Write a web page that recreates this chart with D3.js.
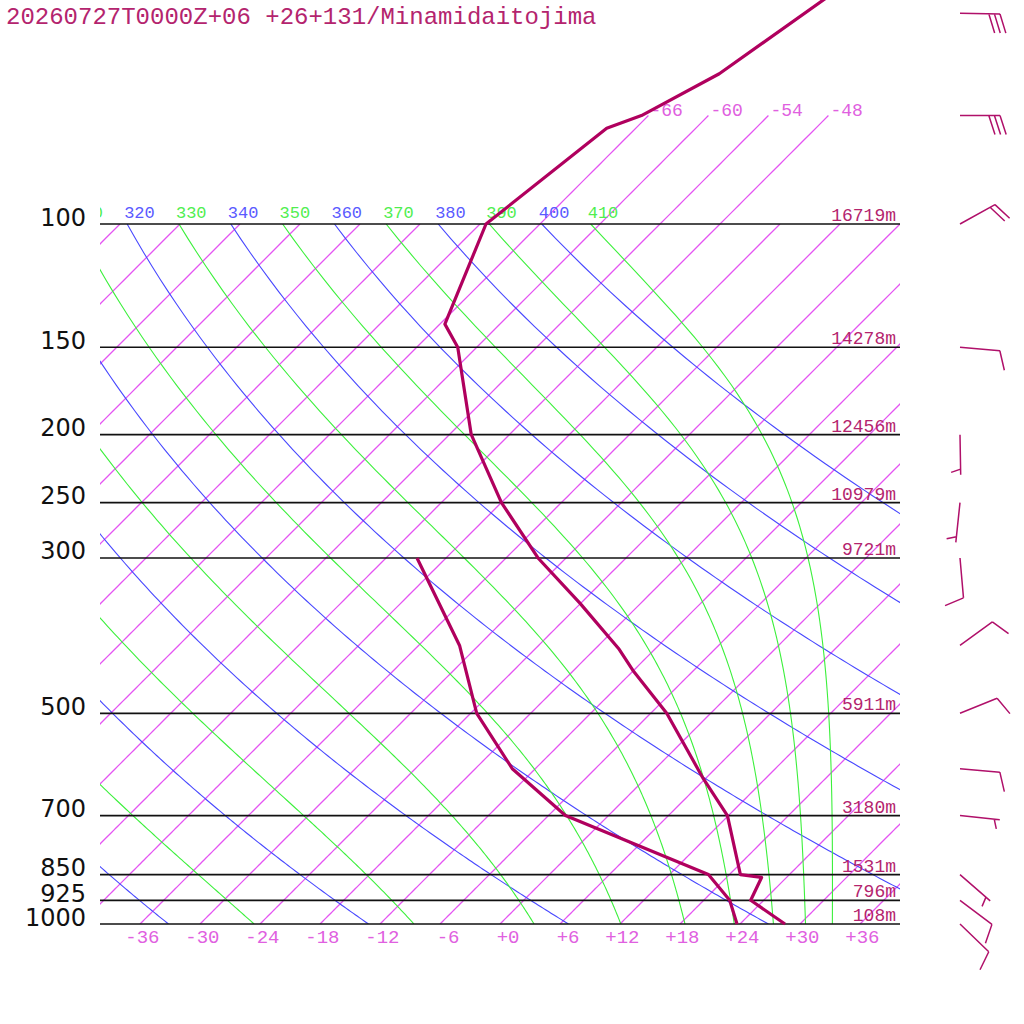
<!DOCTYPE html>
<html><head><meta charset="utf-8">
<script src="https://cdn.jsdelivr.net/npm/d3@7"></script>
<style>body{margin:0;background:#fff} svg{display:block}</style>
</head><body><svg id="c" width="1024" height="1024"></svg>
<script>
// ---------- data ----------
const title = "20260727T0000Z+06 +26+131/Minamidaitojima";
const pLevels = [1000, 925, 850, 700, 500, 300, 250, 200, 150, 100];
const heightLabels = ["108m", "796m", "1531m", "3180m", "5911m", "9721m", "10979m", "12456m", "14278m", "16719m"];
const tempTicks = [-36, -30, -24, -18, -12, -6, 0, 6, 12, 18, 24, 30, 36];
const isoTemps = d3.range(-120, 43, 6);
const upperIsoTemps = [-66, -60, -54, -48];
const dryThetas = [240, 260, 280, 300, 320, 340, 360, 380, 400];
const moistThetaEs = [250, 270, 290, 310, 330, 350, 370, 390, 410];

const tempP = [1000, 925, 858, 850, 700, 620, 500, 434, 404, 348, 300, 250, 200, 150, 139, 100, 73, 70, 61, 45];
const tempT = [28.5, 22.7, 21.5, 19.1, 11.9, 5.8, -4.4, -12.1, -15.7, -24.1, -32.8, -42.0, -51.8, -61.9, -65.5, -71.4, -68.9, -66.7, -63.1, -59.3];
const dewP = [1000, 925, 850, 700, 600, 500, 400, 300];
const dewT = [23.7, 20.6, 15.9, -4.3, -14.3, -23.4, -31.9, -44.9];

const windP = [50, 70, 100, 150, 200, 250, 300, 400, 500, 600, 700, 850, 925, 1000];
const windDir = [91, 90, 61, 95, 179, 186, 175, 54, 68, 95, 96, 131, 127, 134];
const windSpd = [30, 30, 20, 10, 5, 5, 10, 10, 10, 10, 5, 5, 10, 10];

// ---------- setup ----------
const W = 1024, H = 1024;
const L = 100, R = 900, T0 = 224, B = 924;
const svg = d3.select("#c");
const y = d3.scaleLog().domain([1000, 100]).range([B, T0]);
const xT = d3.scaleLinear().domain([-40, 40]).range([L, R]);
const sx = (t, p) => xT(t) + (B - y(p));
const mono = "'Liberation Mono', 'DejaVu Sans Mono', monospace";
const ISO = "#e455f2";

svg.append("rect").attr("width", W).attr("height", H).attr("fill", "#fff");
const defs = svg.append("defs");
defs.append("clipPath").attr("id", "plot").append("rect")
  .attr("x", L).attr("y", T0).attr("width", R - L).attr("height", B - T0);
defs.append("clipPath").attr("id", "labx").append("rect")
  .attr("x", L).attr("y", 0).attr("width", R - L).attr("height", H);

const plot = svg.append("g").attr("clip-path", "url(#plot)");
const pGrid = d3.range(1000, 99, -5);
const pUp = d3.range(100, 69, -2);
const line = d3.line().x(d => d[0]).y(d => d[1]);

// isotherms
plot.append("g").selectAll("path").data(isoTemps).join("path")
  .attr("d", t => line(pGrid.map(p => [sx(t, p), y(p)])))
  .attr("fill", "none").attr("stroke", ISO).attr("stroke-width", 1.3);

// dry adiabats
const K = 0.2854;
plot.append("g").selectAll("path").data(dryThetas).join("path")
  .attr("d", th => line(pGrid.map(p => [sx(th * Math.pow(p / 1000, K) - 273.15, p), y(p)])))
  .attr("fill", "none").attr("stroke", "#4848ff").attr("stroke-width", 1.1);

// moist (pseudo) adiabats, Bolton theta-e
function thetaE(tk, p) {
  const tc = tk - 273.15;
  const es = 6.112 * Math.exp(17.67 * tc / (tc + 243.5));
  const r = 622 * es / (p - es);
  return tk * Math.pow(1000 / p, 0.2854 * (1 - 0.00028 * r)) *
    Math.exp((3.376 / tk - 0.00254) * r * (1 + 0.00081 * r));
}
function solveT(te, p) {
  let lo = 120, hi = 330;
  for (let i = 0; i < 60; i++) {
    const mid = (lo + hi) / 2;
    if (thetaE(mid, p) < te) lo = mid; else hi = mid;
  }
  return (lo + hi) / 2 - 273.15;
}
plot.append("g").selectAll("path").data(moistThetaEs).join("path")
  .attr("d", te => line(pGrid.map(p => [sx(solveT(te, p), p), y(p)])))
  .attr("fill", "none").attr("stroke", "#3cf03c").attr("stroke-width", 1.1);

// upper isotherms (100 -> 70 hPa) with labels
const up = svg.append("g");
up.selectAll("path").data(upperIsoTemps).join("path")
  .attr("d", t => line(pUp.map(p => [sx(t, p), y(p)])))
  .attr("fill", "none").attr("stroke", ISO).attr("stroke-width", 1.3);
up.selectAll("text").data(upperIsoTemps).join("text")
  .attr("x", d => sx(d, 70) + 2).attr("y", y(70) + 0.5)
  .attr("font-family", mono).attr("font-size", 18).attr("fill", "#e060e0")
  .text(d => "-" + Math.abs(d));

// isobars
svg.append("g").selectAll("path").data(pLevels).join("path")
  .attr("d", p => line([[L, y(p)], [R, y(p)]]))
  .attr("fill", "none").attr("stroke", "#111").attr("stroke-width", 1.7);

// theta labels at 100 hPa (only those reaching into the plot)
const lab = svg.append("g").attr("clip-path", "url(#labx)");
const dryLab = dryThetas.map(th => ({v: th, x: sx(th * Math.pow(0.1, K) - 273.15, 100) - 3})).filter(d => d.x > L - 28);
const moistLab = moistThetaEs.map(te => ({v: te, x: sx(solveT(te, 100), 100) - 3})).filter(d => d.x > L - 28);
lab.selectAll("text.dry").data(dryLab).join("text").attr("class", "dry")
  .attr("x", d => d.x).attr("y", y(100) - 6)
  .attr("font-family", mono).attr("font-size", 17).attr("fill", "#5a5aff").text(d => d.v);
lab.selectAll("text.moist").data(moistLab).join("text").attr("class", "moist")
  .attr("x", d => d.x).attr("y", y(100) - 6)
  .attr("font-family", mono).attr("font-size", 17).attr("fill", "#50ee50").text(d => d.v);

// height labels
svg.append("g").selectAll("text").data(pLevels).join("text")
  .attr("x", 896).attr("y", d => y(d) - 3).attr("text-anchor", "end")
  .attr("font-family", mono).attr("font-size", 18).attr("fill", "#b4246e")
  .text((d, i) => heightLabels[i]);

// bottom temperature axis
const ax = svg.append("g").attr("transform", `translate(0,${B})`)
  .call(d3.axisBottom(xT).tickValues(tempTicks).tickSize(0)
    .tickFormat(d => (d < 0 ? "-" : "+") + Math.abs(d)));
ax.select(".domain").remove();
ax.selectAll(".tick line").remove();
ax.selectAll("text").attr("y", 19).attr("dy", 0).attr("dx", 19)
  .attr("text-anchor", "end").attr("font-family", mono).attr("font-size", 19).attr("fill", "#e060e0");

// left pressure axis
const ay = svg.append("g").attr("transform", `translate(${L},0)`)
  .call(d3.axisLeft(y).tickValues(pLevels).tickSize(0).tickPadding(14).tickFormat(d3.format("d")));
ay.select(".domain").remove();
ay.selectAll(".tick line").remove();
ay.selectAll("text").attr("dy", 1).attr("font-family", "'DejaVu Sans', sans-serif")
  .attr("font-size", 24).attr("fill", "#111");

// profiles
const prof = d3.line().x(d => sx(d[1], d[0])).y(d => y(d[0]));
svg.append("path").datum(tempP.map((p, i) => [p, tempT[i]])).attr("d", prof)
  .attr("fill", "none").attr("stroke", "#b0005e").attr("stroke-width", 3.2).attr("stroke-linejoin", "round");
svg.append("path").datum(dewP.map((p, i) => [p, dewT[i]])).attr("d", prof)
  .attr("fill", "none").attr("stroke", "#b0005e").attr("stroke-width", 3.2).attr("stroke-linejoin", "round");

// title
svg.append("text").attr("x", 6).attr("y", 24).attr("font-family", mono).attr("font-size", 24)
  .attr("fill", "#b4246e").text(title);

// wind barbs
const bx = 960, staff = 40, fullL = 20, halfL = 10, gap = 5.6, ang = 72 * Math.PI / 180;
const bg = svg.append("g").attr("stroke", "#b0106a").attr("stroke-width", 1.5).attr("fill", "none");
windP.forEach((p, i) => {
  const d = windDir[i] * Math.PI / 180;
  const ux = Math.sin(d), uy = -Math.cos(d);
  const by = y(p);
  const tx = bx + staff * ux, ty = by + staff * uy;
  const vx = ux * Math.cos(ang) - uy * Math.sin(ang);
  const vy = ux * Math.sin(ang) + uy * Math.cos(ang);
  const segs = [[bx, by, tx, ty]];
  const s = windSpd[i];
  let k = 0;
  const nFull = Math.floor(s / 10), nHalf = Math.round((s % 10) / 5);
  for (let j = 0; j < nFull; j++, k++) {
    const px = tx - k * gap * ux, py = ty - k * gap * uy;
    segs.push([px, py, px + fullL * vx, py + fullL * vy]);
  }
  if (nHalf) {
    if (k === 0) k = 1;
    const px = tx - k * gap * ux, py = ty - k * gap * uy;
    segs.push([px, py, px + halfL * vx, py + halfL * vy]);
  }
  bg.append("path").attr("d", segs.map(a => `M${a[0]},${a[1]}L${a[2]},${a[3]}`).join(""));
});
</script></body></html>
